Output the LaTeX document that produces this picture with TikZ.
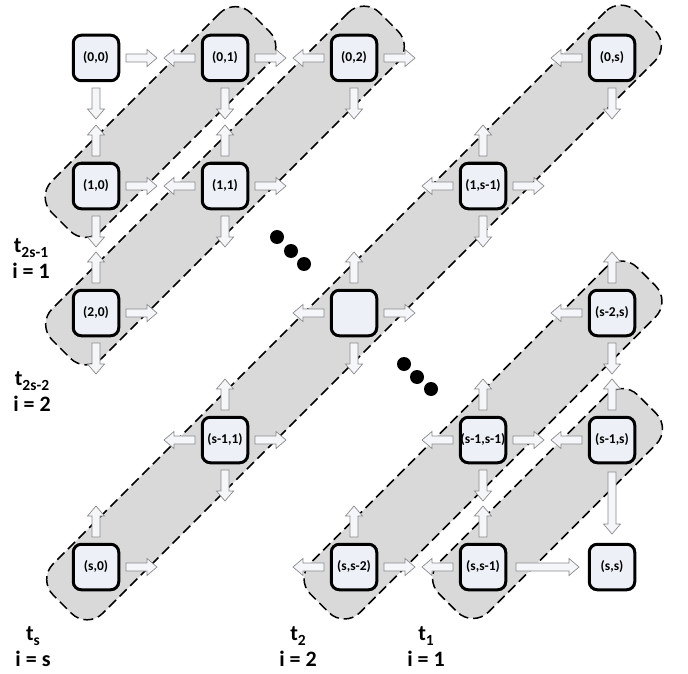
\documentclass[tikz,border=0pt]{standalone}
\usepackage{fontspec}
\setmainfont{Carlito}
\usetikzlibrary{calc,backgrounds}
\definecolor{bandgray}{HTML}{D9D9D9}
\definecolor{boxfill}{HTML}{EDF1F7}
\definecolor{arrfill}{HTML}{F4F6FA}
\definecolor{arredge}{HTML}{8A8A8A}
\newcommand\tsub[2]{#1\raisebox{-4.5pt}{\fontsize{15.5}{17}\selectfont #2}}
\begin{document}
\begin{tikzpicture}[x=1pt,y=-1pt,
  cell/.style={draw=black, line width=3pt, rounded corners=8pt, fill=boxfill,
    minimum size=45.5pt, inner sep=0pt, font=\bfseries\fontsize{13.5}{15}\selectfont},
  band/.style={draw=black, fill=bandgray, line width=1.5pt, dash pattern=on 10pt off 5pt,
    rounded corners=22pt, minimum height=70pt, inner sep=0pt, rotate=45},
  blkst/.style={draw=arredge, fill=arrfill, line width=0.7pt, line join=miter},
  lab/.style={font=\bfseries\fontsize{22}{26}\selectfont, align=center, inner sep=0pt},
  pics/blk/.style 2 args={code={\draw[blkst] (#1,-4) -- (#2-10,-4) -- (#2-10,-8.5)
     -- (#2,0) -- (#2-10,8.5) -- (#2-10,4) -- (#1,4) -- cycle;}},
]
\useasboundingbox (0,0) rectangle (688,674);

% cells
\node[cell] (n00)   at (96,58)   {(0,0)};
\node[cell] (n01)   at (225,58)  {(0,1)};
\node[cell] (n02)   at (354,58)  {(0,2)};
\node[cell] (n0s)   at (612,58)  {(0,s)};
\node[cell] (n10)   at (96,186)  {(1,0)};
\node[cell] (n11)   at (225,186) {(1,1)};
\node[cell] (n1s)   at (483,186) {(1,s-1)};
\node[cell] (n20)   at (96,313)  {(2,0)};
\node[cell] (nmid)  at (354,313) {};
\node[cell] (ns2s)  at (612,313) {(s-2,s)};
\node[cell] (ns11)  at (225,440) {(s-1,1)};
\node[cell] (nss11) at (483,440) {(s-1,s-1)};
\node[cell] (ns1s)  at (612,440) {(s-1,s)};
\node[cell] (ns0)   at (96,567)  {(s,0)};
\node[cell] (nsss2) at (354,567) {(s,s-2)};
\node[cell] (nsss1) at (483,567) {(s,s-1)};
\node[cell] (nss)   at (612,567) {(s,s)};

% short block arrows
\foreach \n/\a in {n00/0,n00/-90,
  n01/180,n01/0,n01/-90, n02/180,n02/0,n02/-90, n0s/180,n0s/-90,
  n10/90,n10/0,n10/-90, n11/180,n11/90,n11/0,n11/-90,
  n1s/180,n1s/90,n1s/0,n1s/-90, n20/90,n20/0,n20/-90,
  nmid/180,nmid/90,nmid/0,nmid/-90, ns2s/180,ns2s/90,ns2s/-90,
  ns11/180,ns11/90,ns11/0,ns11/-90, nss11/180,nss11/90,nss11/0,nss11/-90,
  ns1s/180,ns1s/90, ns0/90,ns0/0, nsss2/180,nsss2/90,nsss2/0,
  nsss1/180,nsss1/90}
  {\pic[rotate=\a] at (\n) {blk={30}{61}};}
% long block arrows into (s,s)
\pic[rotate=-90] at (ns1s) {blk={32}{94}};
\pic[rotate=0] at (nsss1) {blk={33}{96}};

% dots
\fill (277,237) circle (7pt) (291,251) circle (7pt) (304,264) circle (7pt);
\fill (404,364) circle (7pt) (417,377) circle (7pt) (431,389) circle (7pt);

% bands
\begin{scope}[on background layer]
\node[band, minimum width=282pt] (bandA) at ($(n10)!0.5!(n01)$) {};
\node[band, minimum width=463pt] (bandB) at ($(n20)!0.5!(n02)$) {};
\node[band, minimum width=825pt] (bandC) at ($(ns0)!0.5!(n0s)$) {};
\node[band, minimum width=462pt] (bandD) at ($(nsss2)!0.5!(ns2s)$) {};
\node[band, minimum width=281pt] (bandE) at ($(nsss1)!0.5!(ns1s)$) {};
\end{scope}

% labels
\node[lab] (lab1) at (31,259) {\tsub{t}{2s-1}\\i = 1};
\node[lab] (lab2) at (32,392) {\tsub{t}{2s-2}\\i = 2};
\node[lab] (lab3) at (33,647) {\tsub{t}{s}\\i = s};
\node[lab] (lab4) at (298,647) {\tsub{t}{2}\\i = 2};
\node[lab] (lab5) at (426,647) {\tsub{t}{1}\\i = 1};
\end{tikzpicture}
\end{document}
